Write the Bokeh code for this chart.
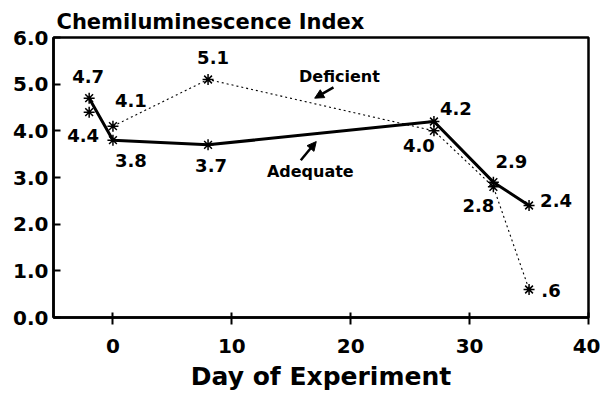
from bokeh.plotting import figure
from bokeh.models import ColumnDataSource, FixedTicker, Arrow, NormalHead, Range1d, Label, CustomJSTickFormatter
from bokeh.core.properties import value
from bokeh.embed import file_html
from bokeh.resources import INLINE

# ---- data ----
days = [-2, 0, 8, 27, 32, 35]
adequate = [4.7, 3.8, 3.7, 4.2, 2.9, 2.4]
deficient = [4.4, 4.1, 5.1, 4.0, 2.8, 0.6]
x_ticks = [0, 10, 20, 30, 40]
y_ticks = [0, 1, 2, 3, 4, 5, 6]

# ---- layout (label offsets in px, screen) ----
ad_dx = [-1, 18, 3, 22, 18, 27]
ad_dy = [-22, 20, 21, -13, -21, -5]
de_dx = [-6, 18, 5, -15, -15, 22]
de_dy = [23, -26, -22, 15, 19, 1]


def fmt(v):
    s = f"{v:.1f}"
    return s[1:] if s.startswith("0.") else s


FONT = "DejaVu Sans"

p = figure(width=600, height=393, output_backend="svg", toolbar_location=None,
           x_range=Range1d(-5, 40), y_range=Range1d(0, 6),
           min_border_left=53, min_border_right=12, min_border_top=37, min_border_bottom=68)
p.title.text = "Chemiluminescence Index"
p.title.text_font = FONT
p.title.text_font_size = "21px"
p.title.text_font_style = "bold"
p.title.text_color = "black"
p.title.align = "left"
p.title.offset = 3
p.title.standoff = 8

p.xgrid.visible = False
p.ygrid.visible = False
p.outline_line_color = "black"
p.outline_line_width = 2.5
p.outline_line_alpha = 1
p.background_fill_color = "white"
p.border_fill_color = "white"

p.xaxis.ticker = FixedTicker(ticks=x_ticks)
p.yaxis.ticker = FixedTicker(ticks=y_ticks)
p.yaxis.formatter = CustomJSTickFormatter(code="return tick.toFixed(1);")
for ax in (p.xaxis[0], p.yaxis[0]):
    ax.axis_line_width = 2.5
    ax.major_tick_line_width = 2
    ax.minor_tick_line_color = None
    ax.major_label_text_font = FONT
    ax.major_label_text_font_style = "bold"
    ax.major_label_text_font_size = "20px"
    ax.major_label_text_color = "black"
p.xaxis.major_tick_in = 5
p.xaxis.major_tick_out = 7
p.xaxis.major_label_standoff = 14
p.yaxis.major_tick_in = 7
p.yaxis.major_tick_out = 0
p.yaxis.major_label_standoff = 5
p.xaxis.axis_label = "Day of Experiment"
p.xaxis.axis_label_text_font = FONT
p.xaxis.axis_label_text_font_style = "bold"
p.xaxis.axis_label_text_font_size = "25px"
p.xaxis.axis_label_text_color = "black"
p.xaxis.axis_label_standoff = 6

src_a = ColumnDataSource(dict(x=days, y=adequate, t=[fmt(v) for v in adequate], dx=ad_dx, dy=ad_dy))
src_d = ColumnDataSource(dict(x=days, y=deficient, t=[fmt(v) for v in deficient], dx=de_dx, dy=de_dy))
src_dl = ColumnDataSource(dict(x=days[1:], y=deficient[1:]))

p.line("x", "y", source=src_dl, line_color="black", line_width=1.1, line_dash="2 3")
p.line("x", "y", source=src_a, line_color="black", line_width=3)
p.scatter("x", "y", source=src_a, marker="asterisk", size=11, line_color="black", line_width=1.5)
p.scatter("x", "y", source=src_d, marker="asterisk", size=11, line_color="black", line_width=1.5)

for src in (src_a, src_d):
    p.text("x", "y", text="t", source=src, x_offset="dx", y_offset="dy",
           text_font=value(FONT), text_font_style="bold", text_font_size="18px",
           text_align="center", text_baseline="middle", text_color="black")

p.add_layout(Label(x=19.05, y=5.16, text="Deficient", text_font=FONT, text_font_style="bold",
                   text_font_size="16px", text_align="center", text_baseline="middle",
                   text_color="black"))
p.add_layout(Label(x=16.6, y=3.13, text="Adequate", text_font=FONT, text_font_style="bold",
                   text_font_size="16px", text_align="center", text_baseline="middle",
                   text_color="black"))
p.add_layout(Arrow(end=NormalHead(size=9, fill_color="black", line_color="black"),
                   x_start=18.55, y_start=4.93, x_end=16.97, y_end=4.70,
                   line_width=2.5, line_color="black"))
p.add_layout(Arrow(end=NormalHead(size=9, fill_color="black", line_color="black"),
                   x_start=15.8, y_start=3.37, x_end=17.1, y_end=3.77,
                   line_width=2.5, line_color="black"))

open("out.html", "w").write(file_html(p, INLINE))
